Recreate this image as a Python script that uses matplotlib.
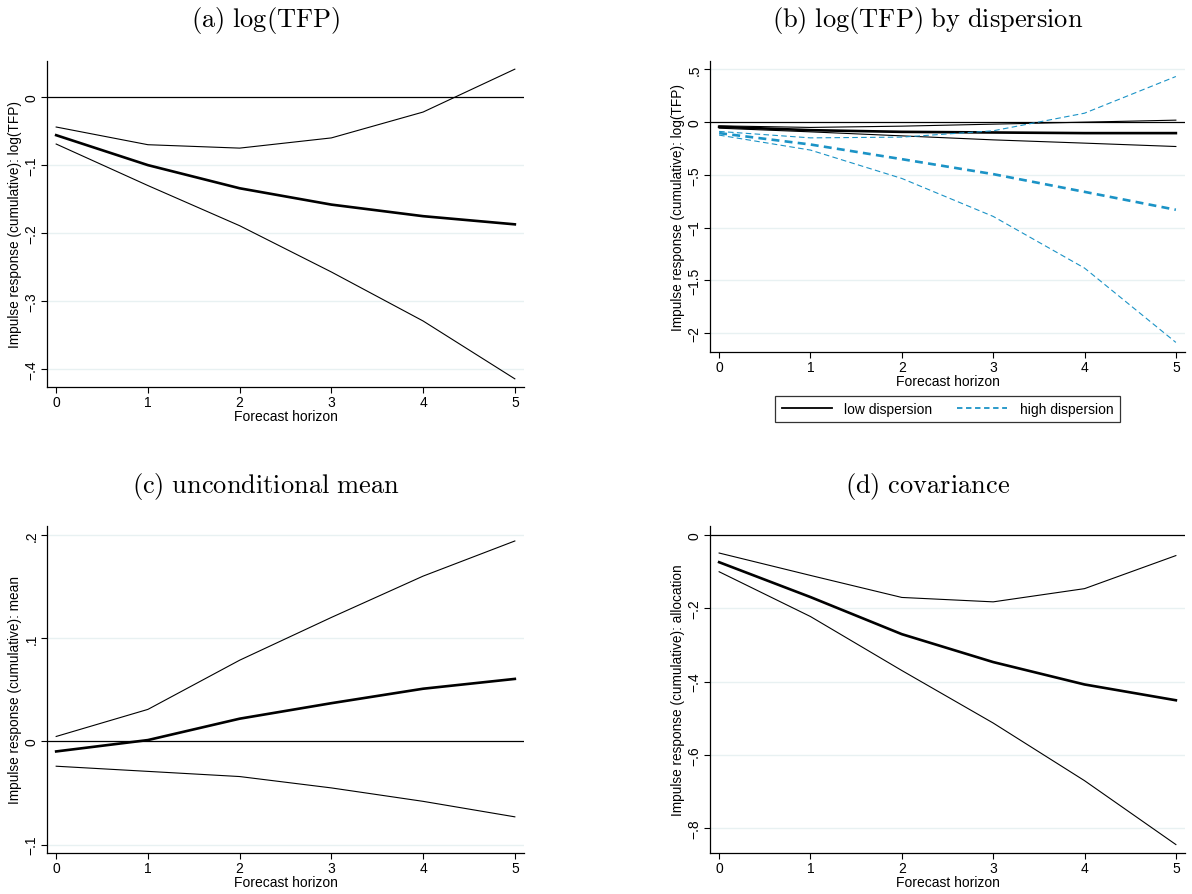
import matplotlib
matplotlib.use("Agg")
import matplotlib.pyplot as plt
from matplotlib.ticker import FuncFormatter

plt.rcParams["font.family"] = ["Liberation Sans", "DejaVu Sans"]
plt.rcParams["mathtext.fontset"] = "cm"

horizon = [0, 1, 2, 3, 4, 5]

# (a) log(TFP): point estimate and band
tfp_mid = [-0.056, -0.100, -0.134, -0.158, -0.175, -0.187]
tfp_hi = [-0.044, -0.070, -0.075, -0.060, -0.022, 0.041]
tfp_lo = [-0.069, -0.130, -0.189, -0.257, -0.329, -0.414]

# (b) log(TFP) split by dispersion
low_mid = [-0.044, -0.076, -0.092, -0.098, -0.104, -0.104]
low_hi = [-0.035, -0.050, -0.038, -0.019, 0.000, 0.019]
low_lo = [-0.057, -0.092, -0.130, -0.168, -0.199, -0.231]
high_mid = [-0.104, -0.212, -0.351, -0.493, -0.661, -0.831]
high_hi = [-0.088, -0.149, -0.142, -0.082, 0.085, 0.433]
high_lo = [-0.123, -0.265, -0.534, -0.894, -1.384, -2.089]

# (c) unconditional mean
mean_mid = [-0.0097, 0.0013, 0.022, 0.037, 0.051, 0.0605]
mean_hi = [0.0048, 0.031, 0.0786, 0.120, 0.160, 0.194]
mean_lo = [-0.024, -0.029, -0.034, -0.045, -0.058, -0.073]

# (d) covariance
cov_mid = [-0.075, -0.170, -0.271, -0.347, -0.408, -0.451]
cov_hi = [-0.050, -0.111, -0.171, -0.183, -0.147, -0.057]
cov_lo = [-0.101, -0.223, -0.370, -0.513, -0.670, -0.844]

titles = ["(a) log(TFP)", "(b) log(TFP) by dispersion",
          "(c) unconditional mean", "(d) covariance"]
ylabels = ["Impulse response (cumulative): log(TFP)",
           "Impulse response (cumulative): log(TFP)",
           "Impulse response (cumulative): mean",
           "Impulse response (cumulative): allocation"]
yticks = [[0, -0.1, -0.2, -0.3, -0.4],
          [0.5, 0, -0.5, -1, -1.5, -2],
          [0.2, 0.1, 0, -0.1],
          [0, -0.2, -0.4, -0.6, -0.8]]
ylims = [(-0.426, 0.053), (-2.18, 0.58), (-0.108, 0.2085), (-0.867, 0.0236)]

BLUE = "#1b93c6"
GRID = "#e8f1f2"


def stata_fmt(v, pos):
    if abs(v) < 1e-9:
        return "0"
    s = ("%g" % abs(v))
    if s.startswith("0."):
        s = s[1:]
    return ("\u2212" if v < 0 else "") + s


W, H = 1192, 895
fig = plt.figure(figsize=(W / 100, H / 100), dpi=100)

boxes = [(47, 524, 62, 388), (710, 1185, 62, 353),
         (47, 524, 527, 854), (710, 1185, 527, 854)]
title_pos = [(266, 20), (928, 20), (266, 487), (928, 487)]

axes = []
for i, (l, r, t, b) in enumerate(boxes):
    ax = fig.add_axes([l / W, 1 - b / H, (r - l) / W, (b - t) / H])
    ax.set_xlim(-0.1, 5.1)
    ax.set_ylim(*ylims[i])
    ax.set_xticks(horizon)
    ax.set_yticks(yticks[i])
    ax.yaxis.set_major_formatter(FuncFormatter(stata_fmt))
    for tv in yticks[i]:
        if abs(tv) > 1e-9:
            ax.axhline(tv, color=GRID, lw=1.0, zorder=0)
    ax.axhline(0, color="black", lw=0.9, zorder=1)
    for side in ["top", "right"]:
        ax.spines[side].set_visible(False)
    for side in ["left", "bottom"]:
        ax.spines[side].set_linewidth(0.9)
    ax.tick_params(axis="both", direction="out", length=4, width=0.8,
                   labelsize=10, pad=2)
    ax.tick_params(axis="y", labelrotation=90)
    for lab in ax.get_yticklabels():
        lab.set_va("center")
    ax.set_xlabel("Forecast horizon", fontsize=10, labelpad=0)
    ax.set_ylabel(ylabels[i], fontsize=9.8, labelpad=2)
    tx, ty = title_pos[i]
    fig.text(tx / W, 1 - ty / H,
             r"$\mathrm{" + titles[i].replace(" ", r"\ ") + "}$",
             ha="center", va="center", fontsize=19)
    axes.append(ax)

ax_a, ax_b, ax_c, ax_d = axes

for ax, mid, hi, lo in [(ax_a, tfp_mid, tfp_hi, tfp_lo),
                        (ax_c, mean_mid, mean_hi, mean_lo),
                        (ax_d, cov_mid, cov_hi, cov_lo)]:
    ax.plot(horizon, hi, color="black", lw=0.8)
    ax.plot(horizon, lo, color="black", lw=0.8)
    ax.plot(horizon, mid, color="black", lw=1.9)

# low vs high dispersion
ax_b.plot(horizon, low_hi, color="black", lw=0.8)
ax_b.plot(horizon, low_lo, color="black", lw=0.8)
ax_b.plot(horizon, low_mid, color="black", lw=1.9)
ax_b.plot(horizon, high_hi, color=BLUE, lw=0.8, ls=(0, (5, 3)))
ax_b.plot(horizon, high_lo, color=BLUE, lw=0.8, ls=(0, (5, 3)))
ax_b.plot(horizon, high_mid, color=BLUE, lw=1.9, ls=(0, (3, 2)))

h1, = ax_b.plot([], [], color="black", lw=1.3)
h2, = ax_b.plot([], [], color=BLUE, lw=1.3, ls=(0, (3, 2)))
leg = fig.legend([h1, h2], ["low dispersion", "high dispersion"],
                 loc="center", bbox_to_anchor=(947.5 / W, 1 - 410 / H),
                 ncol=2, fontsize=10, frameon=True, fancybox=False,
                 handlelength=3.6, columnspacing=1.8, borderpad=0.45,
                 handletextpad=0.9)
leg.get_frame().set_edgecolor("black")
leg.get_frame().set_linewidth(0.9)

fig.savefig("out.png", dpi=100, facecolor="white")
